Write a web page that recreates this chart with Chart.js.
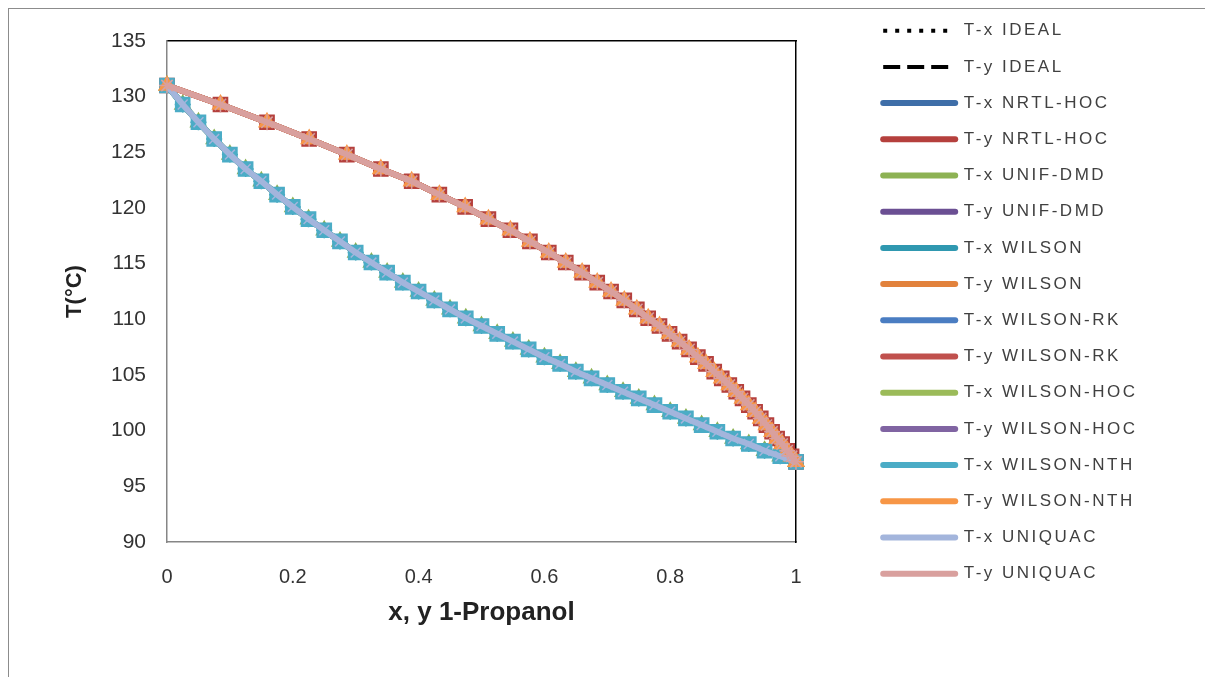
<!DOCTYPE html>
<html lang="en">
<head>
<meta charset="utf-8">
<title>T-x-y 1-Propanol</title>
<script src="https://cdn.jsdelivr.net/npm/chart.js@4.4.1/dist/chart.umd.min.js"></script>
<style>
  html, body { margin: 0; padding: 0; background: #fff; }
  #wrap  { position: relative; width: 1205px; height: 677px; overflow: hidden; }
  #frame { position: absolute; left: 8px; top: 8px; width: 1400px; height: 900px; border: 1px solid #8c8c8c; }
  #chart { position: absolute; left: 0; top: 0; }
</style>
</head>
<body>
<div id="wrap">
  <div id="frame"></div>
  <canvas id="chart" width="1205" height="677"></canvas>
</div>
<script>
/* ── 1. DATA ── */
// liquid mole fraction of 1-propanol
const xLiquid = [0, 0.025, 0.05, 0.075, 0.1, 0.125, 0.15, 0.175, 0.2, 0.225, 0.25, 0.275, 0.3, 0.325,
  0.35, 0.375, 0.4, 0.425, 0.45, 0.475, 0.5, 0.525, 0.55, 0.575, 0.6, 0.625, 0.65, 0.675, 0.7,
  0.725, 0.75, 0.775, 0.8, 0.825, 0.85, 0.875, 0.9, 0.925, 0.95, 0.975, 1];
// bubble temperature, °C
const tBubble = [131.0, 129.3, 127.7, 126.2, 124.8, 123.5, 122.4, 121.2, 120.1, 119.0, 118.0, 117.0,
  116.0, 115.1, 114.2, 113.3, 112.5, 111.7, 110.9, 110.1, 109.4, 108.7, 108.0, 107.3, 106.6, 106.0,
  105.3, 104.7, 104.1, 103.5, 102.9, 102.3, 101.7, 101.1, 100.5, 99.9, 99.3, 98.8, 98.2, 97.7, 97.2];
// vapour mole fraction in equilibrium at the same temperature
const yVapour = [0, 0.085, 0.159, 0.226, 0.286, 0.340, 0.389, 0.433, 0.474, 0.511, 0.546, 0.577,
  0.607, 0.634, 0.660, 0.684, 0.706, 0.727, 0.747, 0.765, 0.783, 0.799, 0.815, 0.830, 0.844, 0.857,
  0.870, 0.882, 0.894, 0.905, 0.915, 0.925, 0.935, 0.944, 0.953, 0.962, 0.970, 0.978, 0.986, 0.993, 1];

const models  = ['IDEAL', 'NRTL-HOC', 'UNIF-DMD', 'WILSON', 'WILSON-RK', 'WILSON-HOC', 'WILSON-NTH', 'UNIQUAC'];
// [T-x colour, T-y colour] per model
const colours = [
  ['#000000', '#000000'],
  ['#3e6ea8', '#b5403d'],
  ['#8db253', '#6b4f93'],
  ['#2f98b0', '#e2823c'],
  ['#4a7dc2', '#c0504d'],
  ['#9bbb59', '#8064a2'],
  ['#4bacc6', '#f79646'],
  ['#a3b5dc', '#d9a09e'],
];
// [T-x marker, T-y marker] per model (false = none)
const markers = [
  [false, false],
  [false, 'rect'],
  ['triangle', 'crossRot'],
  ['star', 'circle'],
  ['cross', false],
  [false, 'cross'],
  ['rect', 'triangle'],
  ['crossRot', 'star'],
];
const markerSize = { rect: 10, triangle: 9, star: 8, crossRot: 7, cross: 6, circle: 5 };

const xTicks = [0, 0.2, 0.4, 0.6, 0.8, 1];

/* ── 2. DATASETS ── */
const txPoints = xLiquid.map((x, i) => ({ x, y: tBubble[i] }));
const tyPoints = yVapour.map((y, i) => ({ x: y, y: tBubble[i] }));

const datasets = [];
models.forEach((m, k) => {
  ['x', 'y'].forEach((ph, j) => {
    const ideal = m === 'IDEAL';
    const mk = markers[k][j];
    datasets.push({
      label: `T-${ph} ${m}`,
      data: ph === 'x' ? txPoints : tyPoints,
      showLine: true,
      borderColor: colours[k][j],
      backgroundColor: colours[k][j],
      borderWidth: ideal ? 3 : 6,
      borderDash: ideal ? (j === 0 ? [4, 8] : [17, 7]) : [],
      pointStyle: mk || 'circle',
      pointRadius: mk ? markerSize[mk] : 0,
      pointBorderWidth: 1.5,
      pointBorderColor: colours[k][j],
      pointBackgroundColor: colours[k][j],
      clip: false,
    });
  });
});
// later series sit on top, as in the original
datasets.forEach((d, i) => (d.order = datasets.length - i));

/* ── 3. LEGEND PATCH ── */
// pin the legend box so the line samples start at x ≈ 883, and space the letters out a bit
const legendPatch = {
  id: 'legendPatch',
  beforeLayout(chart) {
    const lg = chart.legend;
    if (!lg || lg._pinned) return;
    const fit = lg.fit;
    lg.fit = function () { fit.call(this); this.width = 341; };
    const draw = lg.draw;
    lg.draw = function (...args) {
      const ctx = this.ctx;
      const old = ctx.letterSpacing;
      ctx.letterSpacing = '2.5px';
      draw.apply(this, args);
      ctx.letterSpacing = old;
    };
    lg._pinned = true;
  }
};

/* ── 4. CHART ── */
Chart.defaults.font.family = "'Liberation Sans', Arial, sans-serif";
Chart.defaults.color = '#333';

new Chart(document.getElementById('chart'), {
  type: 'scatter',
  data: { datasets },
  plugins: [legendPatch],
  options: {
    responsive: false,
    animation: false,
    devicePixelRatio: 1,
    layout: { padding: { top: 3, left: 0, right: 0, bottom: 0 } },
    plugins: {
      tooltip: { enabled: false },
      legend: {
        position: 'right',
        align: 'start',
        labels: {
          usePointStyle: true,
          pointStyleWidth: 72,
          padding: 19.2,
          color: '#404040',
          font: { size: 17 },
          generateLabels: chart => chart.data.datasets.map((d, i) => ({
            text: d.label,
            strokeStyle: d.borderColor,
            fillStyle: d.borderColor,
            lineWidth: d.borderDash.length ? 4 : 6,
            lineDash: d.borderDash,
            lineCap: d.borderDash.length ? 'butt' : 'round',
            pointStyle: 'line',
            fontColor: '#404040',
            hidden: false,
            datasetIndex: i,
          })),
        },
      },
    },
    scales: {
      x: {
        type: 'linear',
        min: 0, max: 1,
        afterBuildTicks: s => { s.ticks = xTicks.map(v => ({ value: v })); },
        ticks: { padding: 23, font: { size: 20 }, color: '#333', callback: v => String(v) },
        grid: { display: false, drawTicks: false },
        border: { color: '#868686', width: 1.5 },
        title: { display: true, text: 'x, y 1-Propanol', font: { size: 26, weight: 'bold' }, color: '#222', padding: { top: 0, bottom: 49 } },
        afterFit: s => { s.height = 135; },
      },
      x2: {
        type: 'linear', position: 'top', min: 0, max: 1,
        ticks: { display: false },
        grid: { display: false, drawTicks: false },
        border: { color: '#000', width: 1.5 },
        afterFit: s => { s.height = 38; },
      },
      y: {
        type: 'linear',
        min: 90, max: 135,
        ticks: { stepSize: 5, padding: 21, font: { size: 21 }, color: '#333' },
        grid: { display: false, drawTicks: false },
        border: { color: '#868686', width: 1.5 },
        title: { display: true, text: 'T(°C)', font: { size: 22, weight: 'bold' }, color: '#222', padding: { top: 62, bottom: 0 } },
        afterFit: s => { s.width = 167; },
      },
      y2: {
        type: 'linear', position: 'right', min: 0, max: 1,
        ticks: { display: false },
        grid: { display: false, drawTicks: false },
        border: { color: '#000', width: 1.5 },
        afterFit: s => { s.width = 68; },
      },
    },
  },
});
</script>
</body>
</html>
